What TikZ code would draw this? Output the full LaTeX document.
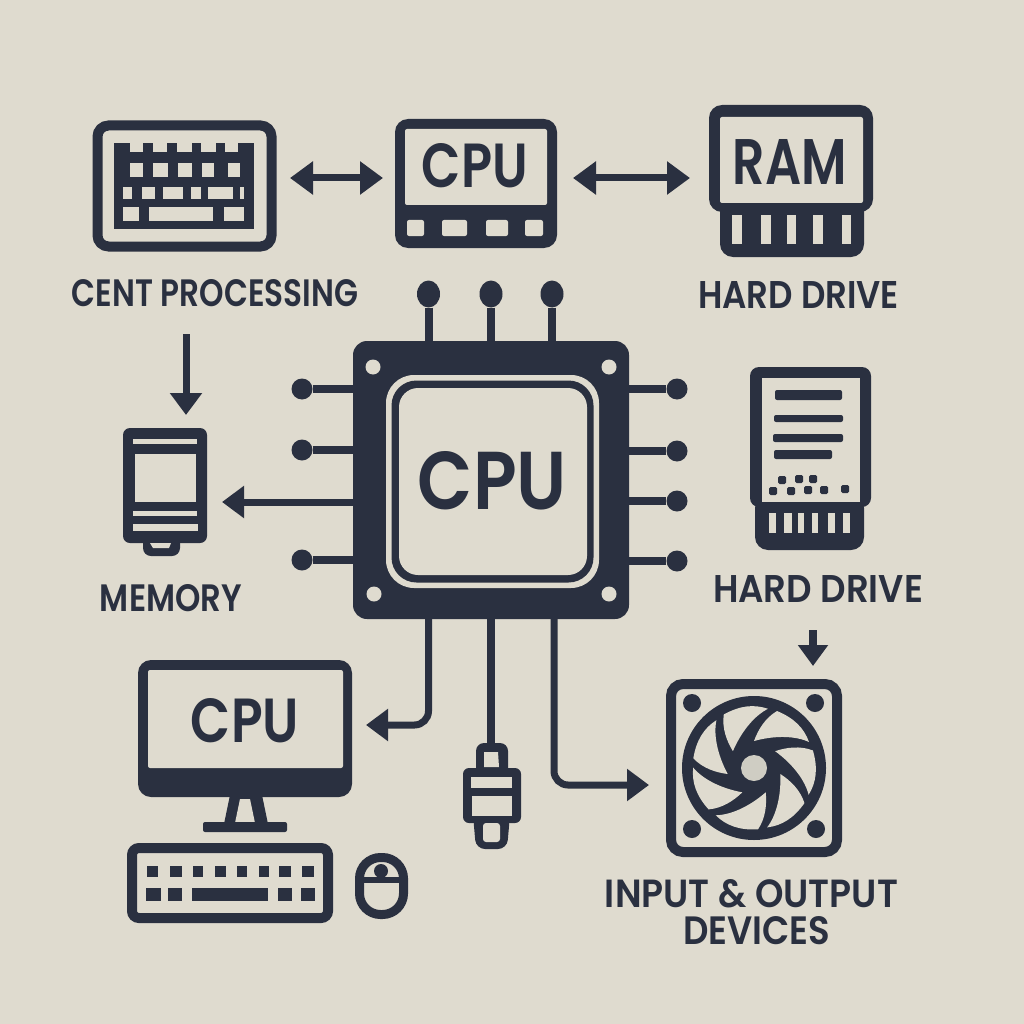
\documentclass[tikz,border=0pt]{standalone}
\usepackage{fontspec}
\usepackage{graphicx}
\setmainfont{Poppins}[UprightFont={* SemiBold}]
\usetikzlibrary{arrows.meta,shapes.geometric,calc}
\definecolor{bg}{HTML}{DFDBCF}
\definecolor{ink}{HTML}{2A3040}
\definecolor{hubgrey}{HTML}{CFCDC3}
\newcommand{\fitlabel}[3]{\resizebox{#1pt}{#2pt}{#3}}
\tikzset{
  dk/.style={fill=ink,draw=none},
  lt/.style={fill=bg,draw=none},
  outline/.style={draw=ink,line width=10pt,fill=bg},
  label/.style={inner sep=0pt,text=ink},
  wire/.style={draw=ink,line width=8pt},
  conn/.style={draw=ink,line width=7pt},
  ball/.style={circle,fill=ink,minimum size=21pt,inner sep=0pt},
  pinhead/.style={ellipse,fill=ink,minimum width=23pt,minimum height=27pt,inner sep=0pt},
  chipbody/.style={rectangle,fill=ink,rounded corners=14pt,minimum width=276pt,minimum height=278pt,inner sep=0pt},
  hd/.style={-{Triangle[length=22pt,width=31pt]}},
  dhd/.style={{Triangle[length=23pt,width=32pt]}-{Triangle[length=23pt,width=32pt]}},
}
\begin{document}
\begin{tikzpicture}[x=1pt,y=-1pt]
\useasboundingbox (0,0) rectangle (1024,1024);
\fill[bg] (0,0) rectangle (1024,1024);

%% keyboard, top left
\draw[outline,rounded corners=11] (97.5,125.5) rectangle (271.5,246.5);
\fill[dk] (114,143) rectangle (254,229);
\foreach \a/\b in {130/143,153/167,177/192,201/216,225/238} \fill[lt] (\a,142) rectangle (\b,152);
\foreach \a/\b in {130/143,153/168,178/192,202/214,228/240} \fill[lt] (\a,163) rectangle (\b,177);
\foreach \a/\b in {123/132,142/155,163/183,191/201,208/233,240/244} \fill[lt] (\a,187) rectangle (\b,199);
\foreach \a/\b in {123/139,149/213,224/244} \fill[lt] (\a,207) rectangle (\b,221);
\coordinate (kbR) at (290,178);
\node[label] (lcent) at (215,293.5) {\fitlabel{286}{27}{CENT PROCESSING}};

%% CPU, top centre
\fill[dk,rounded corners=13] (395,119) rectangle (557,248);
\fill[lt,rounded corners=2] (405,129) rectangle (547,205);
\foreach \a/\b in {407/424,442/467,486/508,525/543} \fill[lt,rounded corners=2] (\a,220) rectangle (\b,236);
\node[label] (tcpu) at (475,166) {\fitlabel{106}{44}{CPU}};
\coordinate (cpuL) at (383,178);
\coordinate (cpuR) at (573,178);
\coordinate (ramL) at (690,178);
\draw[conn,dhd] (kbR) -- (cpuL);
\draw[conn,dhd] (cpuR) -- (ramL);

%% RAM
\fill[dk,rounded corners=13] (709,105) rectangle (873,212);
\fill[dk,rounded corners=13] (720,190) rectangle (864,257);
\fill[lt,rounded corners=2] (720,117) rectangle (863,203);
\foreach \a/\b in {732/742,761/771,787/796,813/823,842/851} \fill[lt] (\a,215) rectangle (\b,244);
\node[label] (tram) at (790,161.5) {\fitlabel{114}{45}{RAM}};
\node[label] (lhd1) at (798.5,295) {\fitlabel{201}{27}{HARD DRIVE}};

%% central chip
\node[chipbody] (chip) at (491,480) {};
\fill[lt,rounded corners=28] (386,375) rectangle (599,588);
\fill[dk,rounded corners=25] (391.5,380.5) rectangle (593.5,582.5);
\fill[lt,rounded corners=19] (399,388) rectangle (587,575);
\foreach \p in {(373,367),(609,367),(374,594),(609,594)} \fill[lt] \p circle (7.5);
\node[label] (cpuM) at (492.5,481) {\fitlabel{149}{58}{CPU}};

%% chip pins
\foreach \n/\x in {T1/428.5,T2/491,T3/552} {
  \node[pinhead] (\n) at (\x,294) {};
  \draw[wire] (\n) -- (\n |- chip.north);
}
\foreach \n/\y in {L1/389,L2/450,L3/560} {
  \node[ball] (\n) at (302,\y) {};
  \draw[wire] (\n) -- (\n -| chip.west);
}
\foreach \n/\y in {R1/389,R2/451,R3/501,R4/561} {
  \node[ball] (\n) at (677,\y) {};
  \draw[wire] (\n) -- (\n -| chip.east);
}

%% memory
\coordinate (chipL) at (353,502);
\coordinate (memR) at (222,502);
\draw[conn,hd] (chipL) -- (memR);
\coordinate (lcentB) at (186,334);
\coordinate (memT) at (186,415);
\draw[conn,hd] (lcentB) -- (memT);
\fill[dk,rounded corners=7] (123,428) rectangle (207,543);
\fill[dk,rounded corners=8] (143,530) rectangle (180,556);
\fill[lt] (133,439) rectangle (197,444);
\fill[lt] (135,454) rectangle (196,502);
\fill[lt] (133,511) rectangle (197,516);
\fill[lt] (133,524) rectangle (198,531);
\fill[lt] (150,543) -- (171,543) -- (169,548) -- (153,548) -- cycle;
\node[label] (lmem) at (171,598.5) {\fitlabel{142}{27}{MEMORY}};

%% hard drive, right
\fill[dk,rounded corners=9] (750,367) rectangle (871,507);
\fill[dk,rounded corners=13] (755,495) rectangle (864,550);
\fill[lt] (762,378) rectangle (860,502);
\foreach \a/\b/\c/\d in {775/842/390/400,774/843/415/422,773/843/434/442,774/832/450/459} \fill[ink,rounded corners=2] (\a,\c) rectangle (\b,\d);
\foreach \a/\b in {782/480,799/479,813/479,773/491,791/491,808/490,824/490,845/489} \fill[ink,rounded corners=1.5] (\a-4,\b-4) rectangle (\a+4,\b+4);
\foreach \a/\b in {769/776,784/792,798/804,812/818,828/835,843/850} \fill[lt] (\a,513) rectangle (\b,533);
\node[label] (lhd2) at (818,588.5) {\fitlabel{210}{27}{HARD DRIVE}};
\coordinate (lhdB) at (813,630);
\coordinate (fanT) at (813,666);
\draw[draw=ink,line width=8pt,-{Triangle[length=21pt,width=29pt]}] (lhdB) -- (fanT);

%% fan
\draw[outline,rounded corners=12] (671,684) rectangle (837,852);
\foreach \p in {(692,703),(815,703),(692,829),(816,829)} \fill[ink] \p circle (9);
\fill[ink] (754,768) circle (72);
\foreach \k in {0,...,6} {
  \begin{scope}[shift={(754,768)},rotate=\k*360/7]
    \fill[lt] (0,-27) .. controls (4,-38) and (11,-50) .. (23,-57)
      .. controls (40,-50) and (50,-40) .. (55,-26)
      .. controls (42,-32) and (22,-33) .. cycle;
  \end{scope}
}
\fill[hubgrey] (754,768) circle (13);

%% monitor
\fill[dk,rounded corners=13] (138,660) rectangle (352,797);
\fill[lt,rounded corners=2] (148,670) rectangle (343,768);
\fill[dk] (230,795) -- (262,795) -- (268,824) -- (224,824) -- cycle;
\fill[lt] (240,799) -- (250,799) -- (255,823) -- (235,823) -- cycle;
\fill[dk,rounded corners=2] (203,822) rectangle (287,832);
\node[label] (tmon) at (245,721) {\fitlabel{108}{44}{CPU}};
\coordinate (chipB1) at (428.5,619);
\coordinate (monR) at (366,725);
\draw[conn,hd,rounded corners=14] (chipB1) |- (monR);

%% lower keyboard
\draw[outline,rounded corners=7] (132,848) rectangle (328,918);
\foreach \a/\b in {147/158,170/182,193/203,215/226,237/247,259/269,279/291,302/314} \fill[ink] (\a,866) rectangle (\b,877);
\foreach \a/\b in {146/161,168/182,192/268,278/292,301/315} \fill[ink] (\a,888) rectangle (\b,901);

%% mouse
\draw[draw=ink,line width=9pt,fill=bg,rounded corners=21] (359.5,857.5) rectangle (403.5,914.5);
\fill[ink] (359.5,877) rectangle (403.5,883);
\fill[ink] (381,871) circle (7);

%% plug
\coordinate (chipB2) at (491,619);
\coordinate (plugT) at (491,745);
\draw[wire] (chipB2) -- (plugT);
\fill[dk,rounded corners=8] (476,743) rectangle (508,780);
\fill[dk,rounded corners=6] (463,768) rectangle (521,823);
\fill[dk,rounded corners=9] (473,815) -- (510,815) -- (507,849) -- (476,849) -- cycle;
\fill[lt] (484,752) -- (498,752) -- (499,767) -- (484,767) -- cycle;
\fill[lt] (471,777) rectangle (512,788);
\fill[lt] (472,796) rectangle (512,816);
\fill[lt,rounded corners=3] (483,823) rectangle (500,842);

%% lower right connector
\coordinate (chipB3) at (554,619);
\coordinate (fanL) at (649,785);
\draw[conn,hd,rounded corners=14] (chipB3) |- (fanL);

\node[label] (lio1) at (751.5,894) {\fitlabel{293}{28}{INPUT \& OUTPUT}};
\node[label] (lio2) at (756.5,931) {\fitlabel{147}{28}{DEVICES}};
\end{tikzpicture}
\end{document}
